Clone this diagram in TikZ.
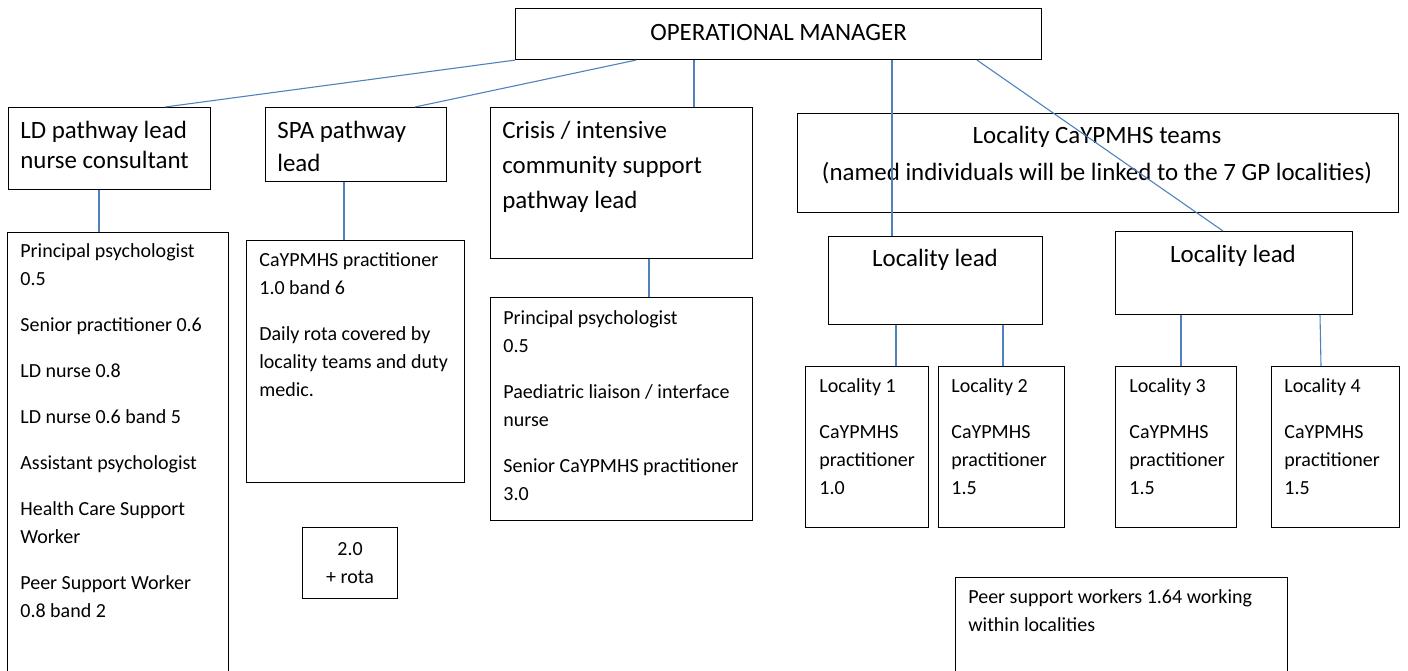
\documentclass[tikz,border=0pt]{standalone}
\usepackage{fontspec}
\setmainfont{Carlito}
\usepackage{tikz}
\usepackage{xcolor}
\definecolor{linkblue}{HTML}{4F81BD}

\begin{document}
\begin{tikzpicture}[x=0.55pt,y=-0.55pt,
    box/.style 2 args={draw=black,line width=0.6pt,inner sep=0pt,anchor=north west,
        minimum width=#1*0.55pt,minimum height=#2*0.55pt},
    link/.style={draw=linkblue,line width=0.6pt},
    body/.style={inner sep=0pt,align=left,font=\fontsize{11}{15.4}\selectfont},
    head/.style={inner sep=0pt,align=left,font=\fontsize{13.7}{16.5}\selectfont}]
    \useasboundingbox (0,0) rectangle (1408,670);

    % top row
    \node[box={526}{51},anchor=north west] (om) at (515,8) {};
    \node[head] (omtxt) at ([shift={(0,-2)}]om.center) {OPERATIONAL MANAGER};
    \node[box={202}{82}] (ld) at (8,107) {};
    \node[head,anchor=north west] (ldtxt) at (20,121) {LD pathway lead\\nurse consultant};
    \node[box={181}{74}] (spa) at (265,107) {};
    \node[head,anchor=north west] (spatxt) at (277,121) {SPA pathway\\[1.6pt]lead};
    \node[box={262}{151}] (crisis) at (490,107) {};
    \node[head,anchor=north west] (crisistxt) at (502,121) {Crisis / intensive\\[2.75pt]community support\\[2.75pt]pathway lead};
    \node[box={601}{99}] (teams) at (797,113) {};
    \node[head,align=center,anchor=north] (teamstxt) at (1097,126) {Locality CaYPMHS teams\\[3.85pt](named individuals will be linked to the 7 GP localities)};
    \node[box={214}{88}] (ll1) at (828,236) {};
    \node[head,anchor=north] (ll1txt) at (935,249) {Locality lead};
    \node[box={237}{83}] (ll2) at (1115,231) {};
    \node[head,anchor=north] (ll2txt) at (1233,245) {Locality lead};

    % staff boxes
    \node[box={221}{450}] (ldlist) at (7,232) {};
    \node[body,anchor=north west] (ldlisttxt) at (20,243) {Principal psychologist\\0.5\\[9.9pt]Senior practitioner 0.6\\[9.9pt]LD nurse 0.8\\[9.9pt]LD nurse 0.6 band 5\\[9.9pt]Assistant psychologist\\[9.9pt]Health Care Support\\Worker\\[9.9pt]Peer Support Worker\\0.8 band 2};
    \node[box={218}{242}] (spalist) at (246,240) {};
    \node[body,anchor=north west] (spalisttxt) at (259,252) {CaYPMHS practitioner\\1.0 band 6\\[9.9pt]Daily rota covered by\\locality teams and duty\\medic.};
    \node[box={95}{71},body,align=center] (rota) at (302,527) {2.0\\+ rota};
    \node[box={262}{223}] (crisislist) at (490,297) {};
    \node[body,anchor=north west] (crisislisttxt) at (503,310) {Principal psychologist\\0.5\\[9.9pt]Paediatric liaison / interface\\nurse\\[9.9pt]Senior CaYPMHS practitioner\\3.0};
    \node[box={123}{161}] (loc1) at (805,366) {};
    \node[body,anchor=north west] (loc1txt) at (819,378) {Locality 1\\[9.9pt]CaYPMHS\\practitioner\\1.0};
    \node[box={126}{161}] (loc2) at (938,366) {};
    \node[body,anchor=north west] (loc2txt) at (951,378) {Locality 2\\[9.9pt]CaYPMHS\\practitioner\\1.5};
    \node[box={121}{161}] (loc3) at (1115,366) {};
    \node[body,anchor=north west] (loc3txt) at (1129,378) {Locality 3\\[9.9pt]CaYPMHS\\practitioner\\1.5};
    \node[box={128}{161}] (loc4) at (1271,366) {};
    \node[body,anchor=north west] (loc4txt) at (1284,378) {Locality 4\\[9.9pt]CaYPMHS\\practitioner\\1.5};
    \node[box={332}{110}] (peer) at (955,577) {};
    \node[body,anchor=north west] (peertxt) at (968,589) {Peer support workers 1.64 working\\within localities};

    % links
    \draw[link] (om.south west)--(165,0 |- ld.north);
    \draw[link] (636,0 |- om.south)--(415,0 |- spa.north);
    \draw[link] (694,0 |- om.south)--(694,0 |- crisis.north);
    \draw[link] (892,0 |- om.south)--(892,0 |- ll1.north);
    \draw[link] (977,0 |- om.south)--(1223,0 |- ll2.north);
    \draw[link] (99,0 |- ld.south)--(99,0 |- ldlist.north);
    \draw[link] (344,0 |- spa.south)--(344,0 |- spalist.north);
    \draw[link] (649,0 |- crisis.south)--(649,0 |- crisislist.north);
    \draw[link] (896,0 |- ll1.south)--(896,0 |- loc1.north);
    \draw[link] (1003,0 |- ll1.south)--(1003,0 |- loc2.north);
    \draw[link] (1181,0 |- ll2.south)--(1181,0 |- loc3.north);
    \draw[link] (1320,0 |- ll2.south)--(1321,0 |- loc4.north);

\end{tikzpicture}
\end{document}
